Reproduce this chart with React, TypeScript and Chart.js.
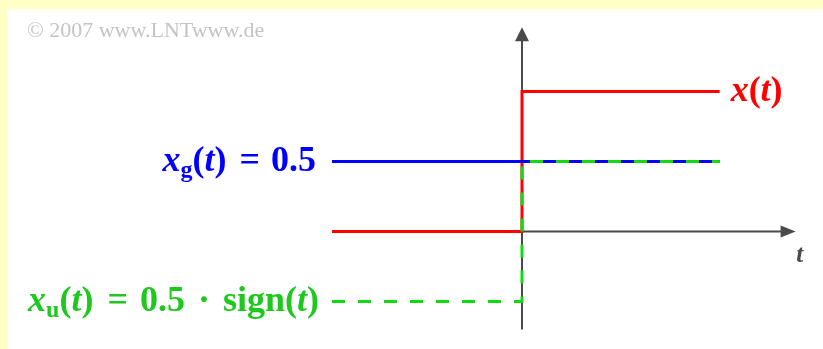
import { useEffect, useRef } from "react";
import { Chart, registerables } from "chart.js";

Chart.register(...registerables);

const W = 823;
const H = 349;

// Step signals over time t (corner points)
const tSignal = [-1, 0, 0, 1.04];
const xSignal = [0, 0, 1, 1]; // x(t): unit step
const xgSignal = [0.5, 0.5, 0.5, 0.5]; // even part
const xuSignal = [-0.5, -0.5, 0.5, 0.5]; // odd part

// Visible value ranges of the two axes
const tRange = [-2.747, 1.584];
const yRange = [-0.839, 1.654];
// Extent of the drawn axis arrows
const tArrowTip = 1.44;
const yArrowTip = 1.46;
const yAxisBottom = -0.7;

const SERIF = '"Liberation Serif", "Times New Roman", serif';
const RED = "#ff0000";
const BLUE = "#0000ff";
const GREEN_LINE = "#12d912";
const GREEN_TEXT = "#1ec81e";
const AXIS = "#4a4a4a";

type Seg = { text: string; italic?: boolean; size?: number; dy?: number; gap?: number };

const MAIN = 36;
const SUB = 24;

const labelX: Seg[] = [
  { text: "x", italic: true },
  { text: "(" },
  { text: "t", italic: true },
  { text: ")" },
];
const labelXg: Seg[] = [
  { text: "x", italic: true },
  { text: "g", size: SUB, dy: 9 },
  { text: "(" },
  { text: "t", italic: true },
  { text: ")" },
  { text: "=", gap: 13 },
  { text: "0.5", gap: 11 },
];
const labelXu: Seg[] = [
  { text: "x", italic: true },
  { text: "u", size: SUB, dy: 9 },
  { text: "(" },
  { text: "t", italic: true },
  { text: ")" },
  { text: "=", gap: 14 },
  { text: "0.5", gap: 12 },
  { text: "·", gap: 13 },
  { text: "sign", gap: 13 },
  { text: "(" },
  { text: "t", italic: true },
  { text: ")" },
];

function segFont(s: Seg) {
  return `${s.italic ? "italic " : ""}bold ${s.size ?? MAIN}px ${SERIF}`;
}

function drawRich(
  ctx: CanvasRenderingContext2D,
  segs: Seg[],
  x: number,
  yMid: number,
  color: string,
  align: "left" | "right"
) {
  ctx.save();
  ctx.textBaseline = "middle";
  ctx.textAlign = "left";
  ctx.fillStyle = color;
  let total = 0;
  const widths = segs.map((s) => {
    ctx.font = segFont(s);
    const w = ctx.measureText(s.text).width + (s.gap ?? 0);
    total += w;
    return w;
  });
  let cx = align === "right" ? x - total : x;
  segs.forEach((s, i) => {
    ctx.font = segFont(s);
    ctx.fillText(s.text, cx + (s.gap ?? 0), yMid + (s.dy ?? 0));
    cx += widths[i];
  });
  ctx.restore();
}

const decor = {
  id: "signalDecor",
  beforeDraw(chart: any) {
    const { ctx } = chart;
    const xs = chart.scales.x;
    const ys = chart.scales.y;
    ctx.save();
    // frame and white panel
    ctx.fillStyle = "#ffffc6";
    ctx.fillRect(0, 0, W, H);
    ctx.fillStyle = "#ffffff";
    ctx.fillRect(7, 9, W - 7, H - 9);

    ctx.fillStyle = "#c4c4c4";
    ctx.font = `22px ${SERIF}`;
    ctx.textBaseline = "middle";
    ctx.fillText("© 2007 www.LNTwww.de", 27, 31);

    // axes with arrowheads
    const x0 = xs.getPixelForValue(0);
    const y0 = ys.getPixelForValue(0);
    const xTip = xs.getPixelForValue(tArrowTip);
    const yTip = ys.getPixelForValue(yArrowTip);
    const yBot = ys.getPixelForValue(yAxisBottom);
    ctx.strokeStyle = AXIS;
    ctx.fillStyle = AXIS;
    ctx.lineWidth = 2;
    ctx.beginPath();
    ctx.moveTo(x0, yBot);
    ctx.lineTo(x0, yTip + 10);
    ctx.moveTo(x0, y0);
    ctx.lineTo(xTip - 10, y0);
    ctx.stroke();
    ctx.beginPath();
    ctx.moveTo(x0, yTip);
    ctx.lineTo(x0 - 7, yTip + 14);
    ctx.lineTo(x0 + 7, yTip + 14);
    ctx.closePath();
    ctx.fill();
    ctx.beginPath();
    ctx.moveTo(xTip, y0);
    ctx.lineTo(xTip - 15, y0 - 6);
    ctx.lineTo(xTip - 15, y0 + 6);
    ctx.closePath();
    ctx.fill();

    ctx.font = `italic bold 25px ${SERIF}`;
    ctx.textAlign = "center";
    ctx.fillText("t", xTip + 4, y0 + 24);
    ctx.restore();
  },
  afterDatasetsDraw(chart: any) {
    const { ctx } = chart;
    const xs = chart.scales.x;
    const ys = chart.scales.y;
    const tEnd = tSignal[tSignal.length - 1];
    const tStart = tSignal[0];
    drawRich(ctx, labelX, xs.getPixelForValue(tEnd) + 11, ys.getPixelForValue(xSignal[3]), RED, "left");
    drawRich(ctx, labelXg, xs.getPixelForValue(tStart) - 16, ys.getPixelForValue(xgSignal[0]), BLUE, "right");
    drawRich(ctx, labelXu, xs.getPixelForValue(tStart) - 13, ys.getPixelForValue(xuSignal[0]), GREEN_TEXT, "right");
  },
};

function pts(ys: number[], ts: number[] = tSignal) {
  return ts.map((t, i) => ({ x: t, y: ys[i] }));
}

export default function App() {
  const ref = useRef<HTMLCanvasElement | null>(null);
  useEffect(() => {
    if (!ref.current) return;
    // Lower dataset index is painted on top: dashed odd part above even part above x(t)
    const chart = new Chart(ref.current, {
      type: "scatter",
      data: {
        datasets: [
          {
            data: pts(xuSignal),
            showLine: true,
            borderColor: GREEN_LINE,
            borderWidth: 3,
            borderDash: [13, 13],
            pointRadius: 0,
          },
          { data: pts(xgSignal), showLine: true, borderColor: BLUE, borderWidth: 3, pointRadius: 0 },
          { data: pts(xSignal), showLine: true, borderColor: RED, borderWidth: 3, pointRadius: 0 },
        ],
      },
      options: {
        responsive: false,
        animation: false,
        events: [],
        layout: { padding: 0 },
        plugins: { legend: { display: false }, tooltip: { enabled: false } },
        scales: {
          x: { type: "linear", min: tRange[0], max: tRange[1], display: false },
          y: { type: "linear", min: yRange[0], max: yRange[1], display: false },
        },
      },
      plugins: [decor],
    } as any);
    return () => chart.destroy();
  }, []);
  return (
    <div style={{ position: "fixed", left: 0, top: 0, width: W, height: H }}>
      <canvas ref={ref} width={W} height={H} style={{ display: "block", width: W, height: H }} />
    </div>
  );
}
